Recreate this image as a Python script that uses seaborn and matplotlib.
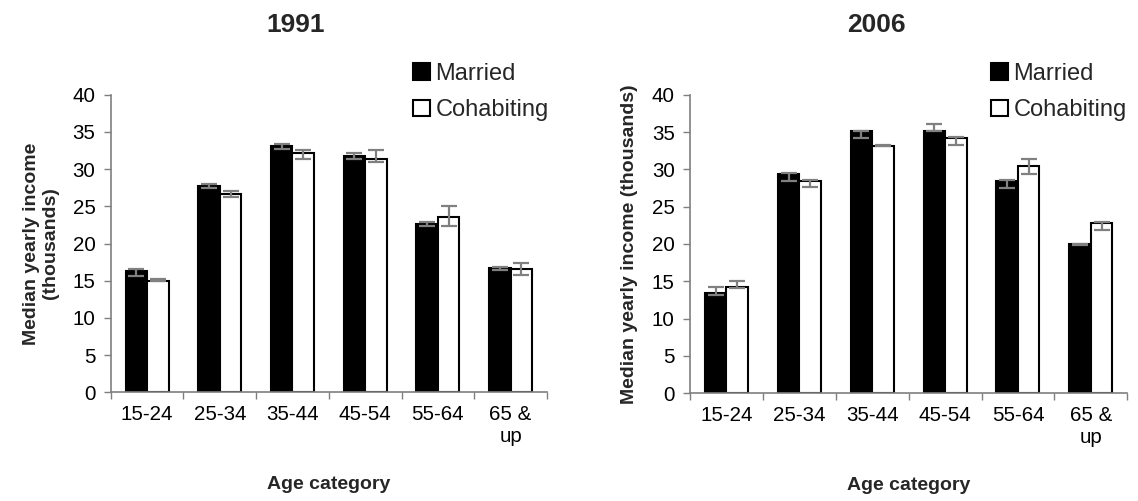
import numpy as np
import pandas as pd
import matplotlib
matplotlib.use("Agg")
import matplotlib.pyplot as plt
from matplotlib.patches import Patch
import seaborn as sns

# Median yearly income (thousands) by age group, with error ranges
ages = ["15-24", "25-34", "35-44", "45-54", "55-64", "65 &\nup"]
groups = ["Married", "Cohabiting"]

married_1991 = [16.3, 27.7, 33.1, 31.8, 22.6, 16.7]
married_1991_lo = [15.6, 27.5, 32.7, 31.4, 22.4, 16.5]
married_1991_hi = [16.6, 27.95, 33.4, 32.2, 22.85, 16.85]
cohab_1991 = [15.0, 26.6, 32.2, 31.3, 23.6, 16.6]
cohab_1991_lo = [14.9, 26.2, 31.4, 31.0, 22.4, 15.8]
cohab_1991_hi = [15.2, 27.1, 32.6, 32.6, 25.0, 17.4]

married_2006 = [13.4, 29.4, 35.1, 35.1, 28.5, 19.95]
married_2006_lo = [13.2, 28.5, 34.2, 35.1, 27.5, 19.9]
married_2006_hi = [14.3, 29.5, 35.2, 36.1, 28.6, 20.0]
cohab_2006 = [14.2, 28.5, 33.15, 34.2, 30.4, 22.8]
cohab_2006_lo = [14.1, 27.6, 33.1, 33.2, 29.4, 21.9]
cohab_2006_hi = [15.1, 28.6, 33.2, 34.3, 31.4, 22.9]

years = ["1991", "2006"]
yticks = list(range(0, 41, 5))

sns.set_theme(style="white")
plt.rcParams["font.family"] = ["Liberation Sans", "DejaVu Sans"]

W, H = 1138, 501
fig = plt.figure(figsize=(W / 100, H / 100), dpi=100)

panels = [
    dict(year="1991", rect=[110.7, 94.7, 547.0, 392.3],
         vals=(married_1991, cohab_1991),
         lo=(married_1991_lo, cohab_1991_lo), hi=(married_1991_hi, cohab_1991_hi),
         ylabel="Median yearly income\n(thousands)", title_x=296, leg_x=413),
    dict(year="2006", rect=[690.0, 94.7, 1127.3, 393.3],
         vals=(married_2006, cohab_2006),
         lo=(married_2006_lo, cohab_2006_lo), hi=(married_2006_hi, cohab_2006_hi),
         ylabel="Median yearly income (thousands)", title_x=876, leg_x=991),
]

axis_grey = "#7f7f7f"
err_grey = "#808080"

for p in panels:
    x0, y0, x1, y1 = p["rect"]
    ax = fig.add_axes([x0 / W, 1 - y1 / H, (x1 - x0) / W, (y1 - y0) / H])

    df = pd.DataFrame({
        "age": ages * 2,
        "group": [groups[0]] * len(ages) + [groups[1]] * len(ages),
        "income": list(p["vals"][0]) + list(p["vals"][1]),
    })
    sns.barplot(data=df, x="age", y="income", hue="group", order=ages,
                hue_order=groups, palette=["black", "white"], width=0.59,
                errorbar=None, edgecolor="black", linewidth=1.5,
                legend=False, ax=ax, zorder=2)

    # error ranges placed at the centres of the drawn bars
    bars = ax.patches
    n = len(ages)
    for gi in range(2):
        xs = [b.get_x() + b.get_width() / 2 for b in bars[gi * n:(gi + 1) * n]]
        v = np.array(p["vals"][gi])
        lo = v - np.array(p["lo"][gi])
        hi = np.array(p["hi"][gi]) - v
        ax.errorbar(xs, v, yerr=[lo, hi], fmt="none", ecolor=err_grey,
                    elinewidth=1.6, capsize=5.6, capthick=1.6, zorder=3)

    ax.set_xlim(-0.5, n - 0.5)
    ax.set_ylim(0, 40)
    ax.set_yticks(yticks)
    ax.set_yticklabels([str(t) for t in yticks])
    ax.set_xticks(np.arange(-0.5, n, 1.0), minor=True)
    ax.tick_params(axis="x", which="major", length=0, pad=9, labelsize=14.8,
                   colors="black")
    ax.tick_params(axis="x", which="minor", length=5, width=1, color=axis_grey,
                   bottom=True, direction="out")
    ax.tick_params(axis="y", which="major", length=5, width=1, color=axis_grey,
                   left=True, direction="out", labelsize=14.8, pad=6,
                   labelcolor="black")
    for s in ["top", "right"]:
        ax.spines[s].set_visible(False)
    for s in ["left", "bottom"]:
        ax.spines[s].set_color(axis_grey)
        ax.spines[s].set_linewidth(1.2)
    ax.grid(False)

    ax.set_xlabel("Age category", fontsize=14, fontweight="bold", labelpad=22)
    ax.set_ylabel(p["ylabel"], fontsize=14, fontweight="bold", labelpad=10,
                  linespacing=1.1)

    fig.text(p["title_x"] / W, 1 - 25 / H, p["year"], fontsize=19,
             fontweight="bold", ha="center", va="center")

    handles = [Patch(facecolor="black", edgecolor="black", linewidth=1.5),
               Patch(facecolor="white", edgecolor="black", linewidth=1.5)]
    ax.legend(handles, groups, loc="upper left",
              bbox_to_anchor=(p["leg_x"] / W, 1 - 63 / H),
              bbox_transform=fig.transFigure, frameon=False, fontsize=17,
              handlelength=0.7, handleheight=0.7, handletextpad=0.25,
              labelspacing=0.6, borderpad=0, borderaxespad=0)

fig.savefig("out.png", dpi=100, facecolor="white")
